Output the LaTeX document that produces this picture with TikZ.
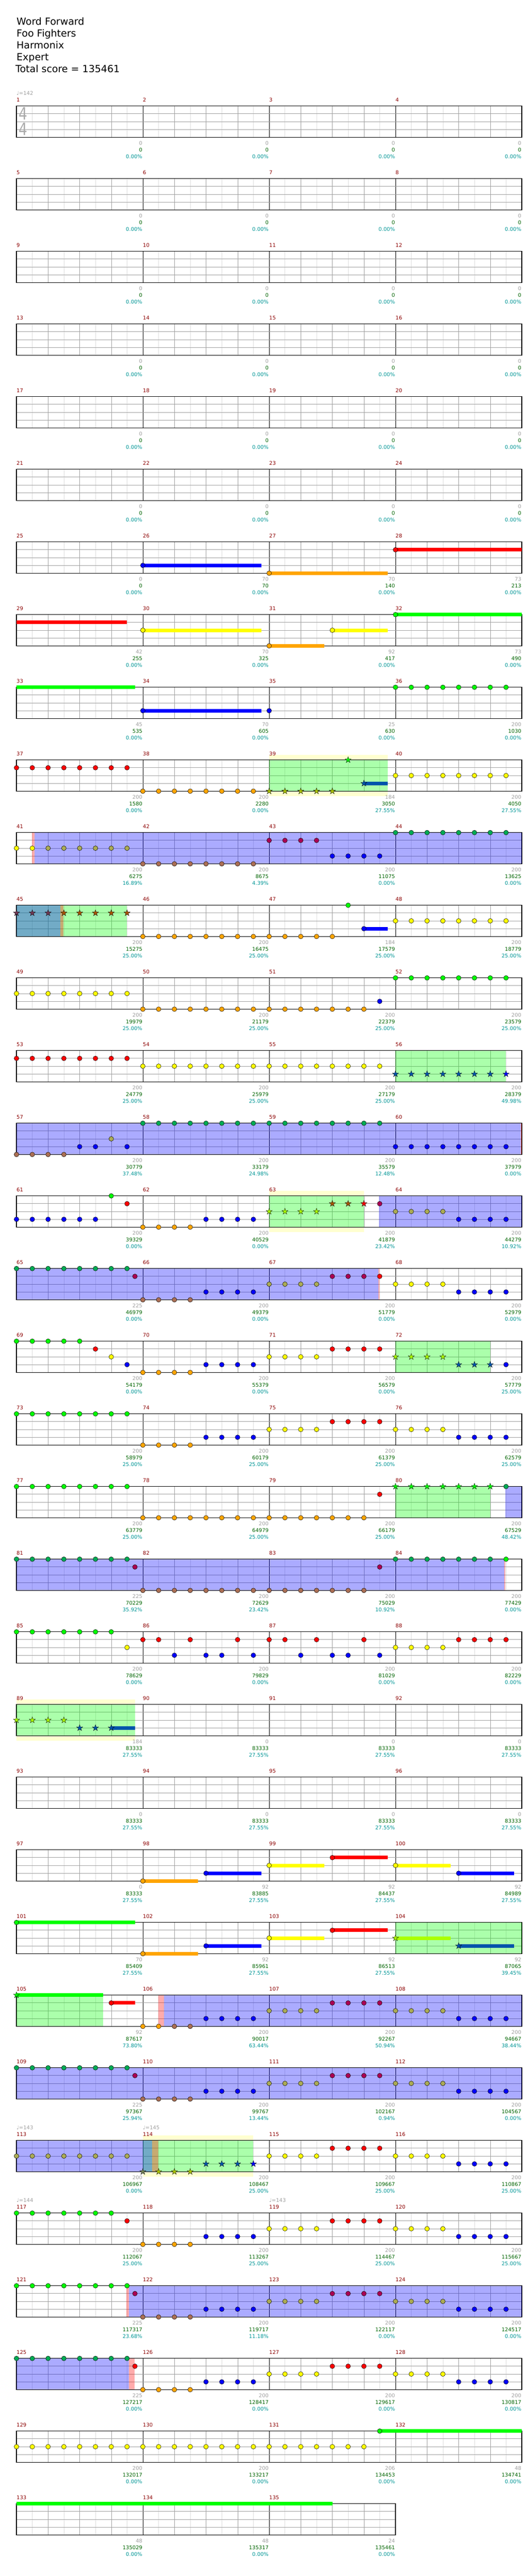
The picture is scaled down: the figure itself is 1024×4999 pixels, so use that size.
\documentclass[tikz,border=0pt]{standalone}
\usepackage{fontspec}
\setmainfont{DejaVu Sans}
\usetikzlibrary{shapes.geometric}

\definecolor{ngreen}{RGB}{0,255,0}
\definecolor{nred}{RGB}{255,0,0}
\definecolor{nyellow}{RGB}{255,255,0}
\definecolor{nblue}{RGB}{0,0,255}
\definecolor{norange}{RGB}{255,165,0}
\colorlet{bgreen}{ngreen!67!nblue}
\colorlet{bred}{nred!67!nblue}
\colorlet{byellow}{nyellow!67!nblue}
\colorlet{borange}{norange!67!nblue}
\colorlet{bblue}{nblue}
\colorlet{gred}{nred!67!ngreen}
\colorlet{gyellow}{nyellow!67!ngreen}
\colorlet{gblue}{nblue!67!ngreen}
\colorlet{gorange}{norange!67!ngreen}
\colorlet{gbred}{gred!67!nblue}
\colorlet{gborange}{gorange!67!nblue}
\definecolor{spyellow}{RGB}{255,255,208}
\definecolor{gridlight}{RGB}{221,221,221}
\definecolor{gridmid}{RGB}{160,160,160}
\definecolor{mred}{RGB}{140,0,0}
\definecolor{sgray}{RGB}{160,160,160}
\definecolor{sgreen}{RGB}{0,100,0}
\definecolor{pteal}{RGB}{0,150,150}
\definecolor{tsgray}{RGB}{170,170,170}

% one staff row: #1 measures, #2 first measure number
\newcommand{\staff}[2]{%
  \pgfmathtruncatemacro\W{8*#1}
  \fill[white] (0,0) rectangle (\W,4);
  \foreach \e in {1,3,...,\W} \draw[gridlight] (\e,0) -- (\e,4);
  \foreach \e in {2,4,...,\W} \draw[gridmid] (\e,0) -- (\e,4);
  \foreach \e in {8,16,...,\W} \draw[black, line width=0.6pt] (\e,0) -- (\e,4);
  \foreach \lane in {1,2,3} \draw[gridmid, line width=0.9pt] (0,\lane) -- (\W,\lane);
  \draw[black, line width=1.2pt] (0,0) rectangle (\W,4);
  \foreach \jm in {1,...,#1} {
    \pgfmathtruncatemacro\mnr{#2+\jm-1}
    \pgfmathsetmacro\mx{8*(\jm-1)}
    \node[mnum] (m\mnr) at ([yshift=7.9pt]\mx,0) {\mnr};
  }
}
% notes, stars, sustains, overlays
\newcommand{\notes}[3]{\foreach \e in {#3} \filldraw[note, fill=#2] (\e,#1) circle (4.6pt);}
\newcommand{\stars}[3]{\foreach \e in {#3} \node[starnote, fill=#2] (s#1-\e) at (\e,#1) {};}
\newcommand{\sus}[4]{\draw[#2, line width=7pt] (#3,#1) -- (#4,#1);}
\newcommand{\ovl}[3]{\fill[#1, fill opacity=0.33] (#2,0) rectangle (#3,4);}
\newcommand{\spbg}[2]{\fill[spyellow] ([yshift=10pt]#1,0) rectangle ([yshift=-10pt]#2,4);}
\newcommand{\tempo}[2]{\node[tempo] (t#1) at ([yshift=21.4pt]#1,0) {♩=#2};}
% scores under each measure: #1 first measure, #2 list gray/total/percent
\newcommand{\scores}[2]{%
  \foreach \va/\vb/\vc [count=\jm] in {#2} {
    \pgfmathtruncatemacro\mnr{#1+\jm-1}
    \pgfmathsetmacro\mx{8*\jm}
    \node[score, sgray] (g\mnr) at ([xshift=-0.8pt,yshift=-75.9pt]\mx,0) {\va};
    \node[score, sgreen] (c\mnr) at ([xshift=-0.8pt,yshift=-88.9pt]\mx,0) {\vb};
    \node[score, pteal] (p\mnr) at ([xshift=-0.8pt,yshift=-101.9pt]\mx,0) {\vc\%};
  }
}
% the run that fills measures 2-4 of many rows
\newcommand{\riff}[1]{%
  \notes{4}{#1orange}{8,...,11}
  \notes{3}{#1blue}{12,...,15}
  \notes{2}{#1yellow}{16,...,19}
  \notes{1}{#1red}{20,...,23}
  \notes{2}{#1yellow}{24,...,27}
  \notes{3}{#1blue}{28,...,31}
}

\begin{document}
\begin{tikzpicture}[x=30.625pt, y=-15.1667pt,
    row/.style={xshift=32pt, yshift={-205.7pt-141pt*#1}},
    note/.style={draw=black, line width=0.5pt},
    starnote/.style={star, star points=5, star point ratio=2.6, minimum size=12.6pt,
      inner sep=0pt, draw=black, line width=0.4pt},
    mnum/.style={anchor=base west, inner sep=0pt, text=mred, font=\fontsize{10}{12}\selectfont},
    score/.style={anchor=base east, inner sep=0pt, font=\fontsize{10}{12}\selectfont},
    tempo/.style={anchor=base west, inner sep=0pt, text=sgray, font=\fontsize{10}{12}\selectfont},
    title/.style={anchor=base west, inner sep=0pt, font=\fontsize{19}{23}\selectfont},
    tsig/.style={inner sep=0pt, text=tsgray, xscale=0.8, font=\fontsize{33}{36}\selectfont}]
  \fill[white] (0pt,0pt) rectangle (1024pt,-4999pt);
  \useasboundingbox (0pt,0pt) rectangle (1024pt,-4999pt);

  \node[title] (song) at (32pt,-49pt) {Word Forward};
  \node[title] (band) at (32pt,-72pt) {Foo Fighters};
  \node[title] (maker) at (32pt,-95pt) {Harmonix};
  \node[title] (level) at (32pt,-118pt) {Expert};
  \node[title] (total) at (30pt,-141pt) {Total score = 135461};

  \begin{scope}[row=0]
    \staff{4}{1}
    \node[tsig] (ts1) at (0.42,0.96) {4};
    \node[tsig] (ts2) at (0.42,2.93) {4};
    \tempo{0}{142}
    \scores{1}{0/0/0.00, 0/0/0.00, 0/0/0.00, 0/0/0.00}
  \end{scope}

  \foreach \k in {1,...,5} {
    \begin{scope}[row=\k]
      \pgfmathtruncatemacro\first{4*\k+1}
      \staff{4}{\first}
      \scores{\first}{0/0/0.00, 0/0/0.00, 0/0/0.00, 0/0/0.00}
    \end{scope}
  }

  \begin{scope}[row=6]
    \staff{4}{25}
    \sus{3}{nblue}{8}{15.5}
    \sus{4}{norange}{16}{23.5}
    \sus{1}{nred}{24}{32}
    \notes{3}{nblue}{8}
    \notes{4}{norange}{16}
    \notes{1}{nred}{24}
    \scores{25}{0/0/0.00, 70/70/0.00, 70/140/0.00, 73/213/0.00}
  \end{scope}

  \begin{scope}[row=7]
    \staff{4}{29}
    \sus{1}{nred}{0}{7}
    \sus{2}{nyellow}{8}{15.5}
    \sus{4}{norange}{16}{19.5}
    \sus{2}{nyellow}{20}{23.5}
    \sus{0}{ngreen}{24}{32}
    \notes{2}{nyellow}{8,20}
    \notes{4}{norange}{16}
    \notes{0}{ngreen}{24}
    \scores{29}{42/255/0.00, 70/325/0.00, 92/417/0.00, 73/490/0.00}
  \end{scope}

  \begin{scope}[row=8]
    \staff{4}{33}
    \sus{0}{ngreen}{0}{7.5}
    \sus{3}{nblue}{8}{15.5}
    \notes{3}{nblue}{8,16}
    \notes{0}{ngreen}{24,...,31}
    \scores{33}{45/535/0.00, 70/605/0.00, 25/630/0.00, 200/1030/0.00}
  \end{scope}

  \begin{scope}[row=9]
    \spbg{16}{23.5}
    \staff{4}{37}
    \sus{3}{nblue}{22}{23.5}
    \ovl{ngreen}{16}{23.5}
    \notes{1}{nred}{0,...,7}
    \notes{4}{norange}{8,...,15}
    \notes{2}{nyellow}{24,...,31}
    \stars{4}{gorange}{16,...,20}
    \stars{0}{ngreen}{21}
    \stars{3}{gblue}{22}
    \scores{37}{200/1580/0.00, 200/2280/0.00, 184/3050/27.55, 200/4050/27.55}
  \end{scope}

  \begin{scope}[row=10]
    \staff{4}{41}
    \ovl{nred}{0.98}{1.13}
    \ovl{nblue}{1.13}{32}
    \notes{2}{nyellow}{0,1}
    \notes{2}{byellow}{2,...,7}
    \notes{4}{borange}{8,...,15}
    \notes{1}{bred}{16,...,19}
    \notes{3}{nblue}{20,...,23}
    \notes{0}{bgreen}{24,...,31}
    \scores{41}{200/6275/16.89, 200/8675/4.39, 200/11075/0.00, 200/13625/0.00}
  \end{scope}

  \begin{scope}[row=11]
    \staff{4}{45}
    \sus{3}{nblue}{22}{23.5}
    \ovl{ngreen}{0}{7}
    \ovl{nblue}{0}{2.78}
    \ovl{nred}{2.78}{2.97}
    \stars{1}{gbred}{0,1,2}
    \stars{1}{gred}{3,...,7}
    \notes{4}{norange}{8,...,20}
    \notes{0}{ngreen}{21}
    \notes{3}{nblue}{22}
    \notes{2}{nyellow}{24,...,31}
    \scores{45}{200/15275/25.00, 200/16475/25.00, 184/17579/25.00, 200/18779/25.00}
  \end{scope}

  \begin{scope}[row=12]
    \staff{4}{49}
    \notes{2}{nyellow}{0,...,7}
    \notes{4}{norange}{8,...,22}
    \notes{3}{nblue}{23}
    \notes{0}{ngreen}{24,...,31}
    \scores{49}{200/19979/25.00, 200/21179/25.00, 200/22379/25.00, 200/23579/25.00}
  \end{scope}

  \begin{scope}[row=13]
    \staff{4}{53}
    \ovl{ngreen}{24}{31}
    \notes{1}{nred}{0,...,7}
    \notes{2}{nyellow}{8,...,23}
    \stars{3}{gblue}{24,...,30}
    \stars{3}{nblue}{31}
    \scores{53}{200/24779/25.00, 200/25979/25.00, 200/27179/25.00, 200/28379/49.98}
  \end{scope}

  \begin{scope}[row=14]
    \staff{4}{57}
    \ovl{nblue}{0}{31.93}
    \ovl{nred}{31.93}{32}
    \notes{4}{borange}{0,...,3}
    \notes{3}{nblue}{4,5,7}
    \notes{2}{byellow}{6}
    \notes{0}{bgreen}{8,...,23}
    \notes{3}{nblue}{24,...,31}
    \scores{57}{200/30779/37.48, 200/33179/24.98, 200/35579/12.48, 200/37979/0.00}
  \end{scope}

  \begin{scope}[row=15]
    \spbg{16}{22}
    \staff{4}{61}
    \ovl{ngreen}{16}{22}
    \ovl{nblue}{22.95}{32}
    \notes{3}{nblue}{0,...,5}
    \notes{0}{ngreen}{6}
    \notes{1}{nred}{7}
    \notes{4}{norange}{8,...,11}
    \notes{3}{nblue}{12,...,15}
    \stars{2}{gyellow}{16,...,19}
    \stars{1}{gred}{20,21}
    \stars{1}{nred}{22}
    \notes{1}{bred}{23}
    \notes{2}{byellow}{24,...,27}
    \notes{3}{nblue}{28,...,31}
    \scores{61}{200/39329/0.00, 200/40529/0.00, 200/41879/23.42, 200/44279/10.92}
  \end{scope}

  \begin{scope}[row=16]
    \staff{4}{65}
    \ovl{nblue}{0}{22.92}
    \ovl{nred}{22.92}{23}
    \notes{0}{bgreen}{0,...,7}
    \notes{1}{bred}{7.5}
    \notes{4}{borange}{8,...,11}
    \notes{3}{nblue}{12,...,15}
    \notes{2}{byellow}{16,...,19}
    \notes{1}{bred}{20,21,22}
    \notes{1}{nred}{23}
    \notes{2}{nyellow}{24,...,27}
    \notes{3}{nblue}{28,...,31}
    \scores{65}{225/46979/0.00, 200/49379/0.00, 200/51779/0.00, 200/52979/0.00}
  \end{scope}

  \begin{scope}[row=17]
    \staff{4}{69}
    \ovl{ngreen}{24}{30}
    \notes{0}{ngreen}{0,...,4}
    \notes{1}{nred}{5}
    \notes{2}{nyellow}{6}
    \notes{3}{nblue}{7}
    \notes{4}{norange}{8,...,11}
    \notes{3}{nblue}{12,...,15}
    \notes{2}{nyellow}{16,...,19}
    \notes{1}{nred}{20,...,23}
    \stars{2}{gyellow}{24,...,27}
    \stars{3}{gblue}{28,29,30}
    \notes{3}{nblue}{31}
    \scores{69}{200/54179/0.00, 200/55379/0.00, 200/56579/0.00, 200/57779/25.00}
  \end{scope}

  \begin{scope}[row=18]
    \staff{4}{73}
    \notes{0}{ngreen}{0,...,7}
    \riff{n}
    \scores{73}{200/58979/25.00, 200/60179/25.00, 200/61379/25.00, 200/62579/25.00}
  \end{scope}

  \begin{scope}[row=19]
    \staff{4}{77}
    \ovl{ngreen}{24}{30}
    \ovl{nblue}{30.96}{32}
    \notes{0}{ngreen}{0,...,7}
    \notes{4}{norange}{8,...,22}
    \notes{1}{nred}{23}
    \stars{0}{ngreen}{24,...,30}
    \notes{0}{bgreen}{31}
    \scores{77}{200/63779/25.00, 200/64979/25.00, 200/66179/25.00, 200/67529/48.42}
  \end{scope}

  \begin{scope}[row=20]
    \staff{4}{81}
    \ovl{nblue}{0}{30.9}
    \ovl{nred}{30.9}{30.97}
    \notes{0}{bgreen}{0,...,7}
    \notes{1}{bred}{7.5}
    \notes{4}{borange}{8,...,22}
    \notes{1}{bred}{23}
    \notes{0}{bgreen}{24,...,30}
    \notes{0}{ngreen}{31}
    \scores{81}{225/70229/35.92, 200/72629/23.42, 200/75029/10.92, 200/77429/0.00}
  \end{scope}

  \begin{scope}[row=21]
    \staff{4}{85}
    \notes{0}{ngreen}{0,...,6}
    \notes{2}{nyellow}{7}
    \notes{1}{nred}{8,9,11,14,16,17,19,22}
    \notes{3}{nblue}{10,12,13,15,18,20,21,23}
    \notes{2}{nyellow}{24,...,27}
    \notes{1}{nred}{28,...,31}
    \scores{85}{200/78629/0.00, 200/79829/0.00, 200/81029/0.00, 200/82229/0.00}
  \end{scope}

  \begin{scope}[row=22]
    \spbg{0}{7.5}
    \staff{4}{89}
    \sus{3}{nblue}{6}{7.5}
    \ovl{ngreen}{0}{7.5}
    \stars{2}{gyellow}{0,...,3}
    \stars{3}{gblue}{4,5,6}
    \scores{89}{184/83333/27.55, 0/83333/27.55, 0/83333/27.55, 0/83333/27.55}
  \end{scope}

  \begin{scope}[row=23]
    \staff{4}{93}
    \scores{93}{0/83333/27.55, 0/83333/27.55, 0/83333/27.55, 0/83333/27.55}
  \end{scope}

  \begin{scope}[row=24]
    \staff{4}{97}
    \sus{4}{norange}{8}{11.5}
    \sus{3}{nblue}{12}{15.5}
    \sus{2}{nyellow}{16}{19.5}
    \sus{1}{nred}{20}{23.5}
    \sus{2}{nyellow}{24}{27.5}
    \sus{3}{nblue}{28}{31.5}
    \notes{4}{norange}{8}
    \notes{3}{nblue}{12,28}
    \notes{2}{nyellow}{16,24}
    \notes{1}{nred}{20}
    \scores{97}{0/83333/27.55, 92/83885/27.55, 92/84437/27.55, 92/84989/27.55}
  \end{scope}

  \begin{scope}[row=25]
    \staff{4}{101}
    \sus{0}{ngreen}{0}{7.5}
    \sus{4}{norange}{8}{11.5}
    \sus{3}{nblue}{12}{15.5}
    \sus{2}{nyellow}{16}{19.5}
    \sus{1}{nred}{20}{23.5}
    \sus{2}{nyellow}{24}{27.5}
    \sus{3}{nblue}{28}{31.5}
    \ovl{ngreen}{24}{32}
    \notes{0}{ngreen}{0}
    \notes{4}{norange}{8}
    \notes{3}{nblue}{12}
    \notes{2}{nyellow}{16}
    \notes{1}{nred}{20}
    \stars{2}{gyellow}{24}
    \stars{3}{gblue}{28}
    \scores{101}{70/85409/27.55, 92/85961/27.55, 92/86513/27.55, 92/87065/39.45}
  \end{scope}

  \begin{scope}[row=26]
    \staff{4}{105}
    \sus{0}{ngreen}{0}{5.5}
    \sus{1}{nred}{6}{7.5}
    \ovl{ngreen}{0}{5.5}
    \ovl{nred}{8.99}{9.34}
    \ovl{nblue}{9.34}{32}
    \stars{0}{ngreen}{0}
    \notes{1}{nred}{6}
    \notes{4}{norange}{8,9}
    \notes{4}{borange}{10,11}
    \notes{3}{nblue}{12,...,15}
    \notes{2}{byellow}{16,...,19}
    \notes{1}{bred}{20,...,23}
    \notes{2}{byellow}{24,...,27}
    \notes{3}{nblue}{28,...,31}
    \scores{105}{92/87617/73.80, 200/90017/63.44, 200/92267/50.94, 200/94667/38.44}
  \end{scope}

  \begin{scope}[row=27]
    \staff{4}{109}
    \ovl{nblue}{0}{32}
    \notes{0}{bgreen}{0,...,7}
    \notes{1}{bred}{7.5}
    \riff{b}
    \scores{109}{225/97367/25.94, 200/99767/13.44, 200/102167/0.94, 200/104567/0.00}
  \end{scope}

  \begin{scope}[row=28]
    \spbg{8}{15}
    \staff{4}{113}
    \tempo{0}{143}
    \tempo{8}{145}
    \ovl{ngreen}{8}{15}
    \ovl{nblue}{0}{8.6}
    \ovl{nred}{8.6}{8.99}
    \notes{2}{byellow}{0,...,7}
    \stars{4}{gborange}{8}
    \stars{4}{gorange}{9,10,11}
    \stars{3}{gblue}{12,13,14}
    \stars{3}{nblue}{15}
    \notes{2}{nyellow}{16,...,19}
    \notes{1}{nred}{20,...,23}
    \notes{2}{nyellow}{24,...,27}
    \notes{3}{nblue}{28,...,31}
    \scores{113}{200/106967/0.00, 200/108467/25.00, 200/109667/25.00, 200/110867/25.00}
  \end{scope}

  \begin{scope}[row=29]
    \staff{4}{117}
    \tempo{0}{144}
    \tempo{16}{143}
    \notes{0}{ngreen}{0,...,6}
    \notes{1}{nred}{7}
    \riff{n}
    \scores{117}{200/112067/25.00, 200/113267/25.00, 200/114467/25.00, 200/115667/25.00}
  \end{scope}

  \begin{scope}[row=30]
    \staff{4}{121}
    \ovl{nred}{6.97}{7.12}
    \ovl{nblue}{7.12}{32}
    \notes{0}{ngreen}{0,...,7}
    \notes{1}{bred}{7.5}
    \riff{b}
    \scores{121}{225/117317/23.68, 200/119717/11.18, 200/122117/0.00, 200/124517/0.00}
  \end{scope}

  \begin{scope}[row=31]
    \staff{4}{125}
    \ovl{nblue}{0}{7.12}
    \ovl{nred}{7.12}{7.47}
    \notes{0}{bgreen}{0,...,7}
    \notes{1}{nred}{7.5}
    \riff{n}
    \scores{125}{225/127217/0.00, 200/128417/0.00, 200/129617/0.00, 200/130817/0.00}
  \end{scope}

  \begin{scope}[row=32]
    \staff{4}{129}
    \sus{0}{ngreen}{23}{32}
    \notes{2}{nyellow}{0,...,22}
    \notes{0}{ngreen}{23}
    \scores{129}{200/132017/0.00, 200/133217/0.00, 206/134453/0.00, 48/134741/0.00}
  \end{scope}

  \begin{scope}[row=33]
    \staff{3}{133}
    \sus{0}{ngreen}{0}{20}
    \scores{133}{48/135029/0.00, 48/135317/0.00, 24/135461/0.00}
  \end{scope}
\end{tikzpicture}
\end{document}
